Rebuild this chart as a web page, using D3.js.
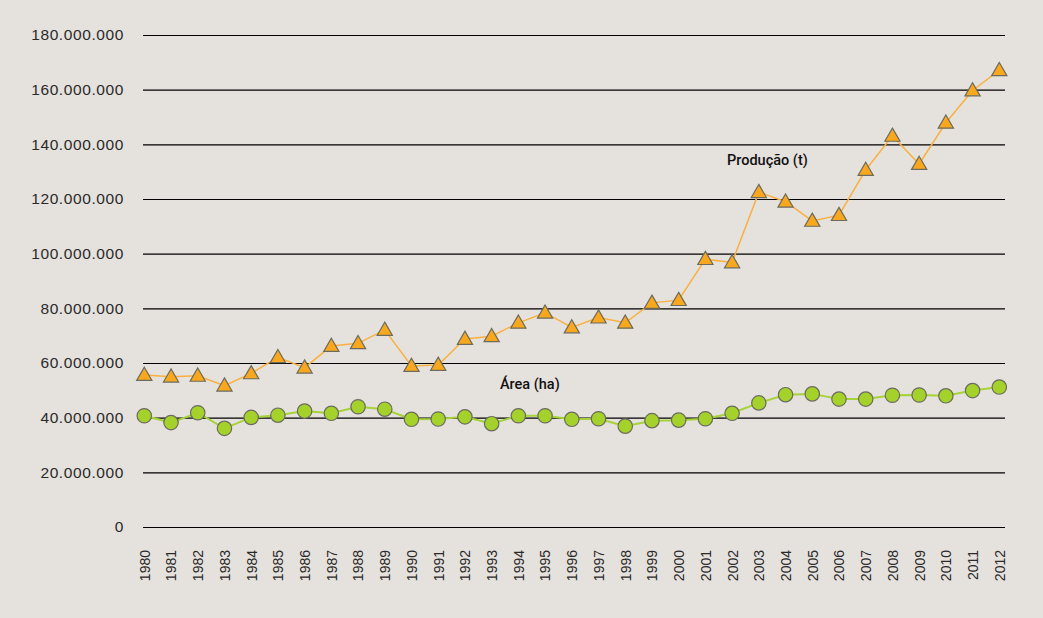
<!DOCTYPE html>
<html><head><meta charset="utf-8">
<script src="https://cdn.jsdelivr.net/npm/d3@7"></script>
<style>
html,body{margin:0;padding:0;background:#E5E1DD;}
svg{display:block;}
</style></head>
<body>
<svg id="chart" width="1043" height="618"></svg>
<script>
const years = [1980,1981,1982,1983,1984,1985,1986,1987,1988,1989,1990,1991,1992,1993,1994,1995,1996,1997,1998,1999,2000,2001,2002,2003,2004,2005,2006,2007,2008,2009,2010,2011,2012];
const producao = [55.6,55.0,55.3,51.7,56.2,62.1,58.3,66.2,67.2,72.1,58.9,59.3,68.8,69.8,74.7,78.4,73.0,76.6,74.7,82.0,83.0,98.0,96.8,122.5,119.0,112.0,114.1,130.6,143.1,132.8,147.9,159.7,167.1].map(v=>v*1e6);
const area = [40.7,38.2,41.8,36.1,40.1,40.9,42.4,41.6,44.0,43.1,39.4,39.5,40.3,37.8,40.7,40.7,39.4,39.6,36.9,38.9,39.1,39.6,41.6,45.4,48.4,48.7,46.8,46.8,48.2,48.3,48.0,49.9,51.2].map(v=>v*1e6);
const yTicks = [0,20e6,40e6,60e6,80e6,100e6,120e6,140e6,160e6,180e6];
const seriesLabels = ["Produção (t)", "Área (ha)"];

const svg = d3.select("#chart");
const x = d3.scalePoint().domain(years).range([144.3, 999.3]);
const y = d3.scaleLinear().domain([0,180e6]).range([527,35]);
const fmt = v => d3.format(",")(v).replace(/,/g,".");

// gridlines + y labels
const yAxis = d3.axisLeft(y).tickValues(yTicks).tickSize(-862).tickPadding(19).tickFormat(fmt);
const gy = svg.append("g").attr("transform","translate(143,0)").call(yAxis);
gy.select(".domain").remove();
gy.selectAll(".tick line").attr("stroke","#000").attr("stroke-width",1.1);
gy.selectAll(".tick text").attr("fill","#2a2a2a").style("font-family","'Liberation Sans', Arial, sans-serif").style("font-size","15.5px").style("letter-spacing","0.6px");

// x labels
const xAxis = d3.axisBottom(x).tickSize(0).tickPadding(0);
const gx = svg.append("g").attr("transform","translate(0,527)").call(xAxis);
gx.select(".domain").remove();
gx.selectAll(".tick text")
  .attr("fill","#2a2a2a")
  .style("font-family","'Liberation Sans', Arial, sans-serif").style("font-size","14px")
  .attr("transform","rotate(-90)")
  .attr("text-anchor","end")
  .attr("x",-23).attr("y",0).attr("dy","0.35em");

const line = d3.line().x((d,i)=>x(years[i])).y(d=>y(d));

// area series
svg.append("path").datum(area).attr("d",line).attr("fill","none").attr("stroke","#A6D23A").attr("stroke-width",2);
// production series
svg.append("path").datum(producao).attr("d",line).attr("fill","none").attr("stroke","#F9B040").attr("stroke-width",1.5);

svg.append("g").selectAll("circle").data(area).join("circle")
  .attr("cx",(d,i)=>x(years[i])).attr("cy",d=>y(d)).attr("r",7.2)
  .attr("fill","#A4D22A").attr("stroke","#6B6B5E").attr("stroke-width",1.2);

const tri = d3.symbol().type(d3.symbolTriangle).size(100);
svg.append("g").selectAll("path").data(producao).join("path")
  .attr("transform",(d,i)=>`translate(${x(years[i])},${y(d)+1})`)
  .attr("d",tri)
  .attr("fill","#F9A81E").attr("stroke","#6B6B5E").attr("stroke-width",1.2);

svg.append("text").attr("x",727).attr("y",165).text(seriesLabels[0])
  .style("font-family","Roboto, sans-serif").style("font-weight","500").style("font-size","14.5px").attr("fill","#111");
svg.append("text").attr("x",500).attr("y",389).text(seriesLabels[1])
  .style("font-family","Roboto, sans-serif").style("font-weight","500").style("font-size","14.5px").attr("fill","#111");
</script>
</body></html>
